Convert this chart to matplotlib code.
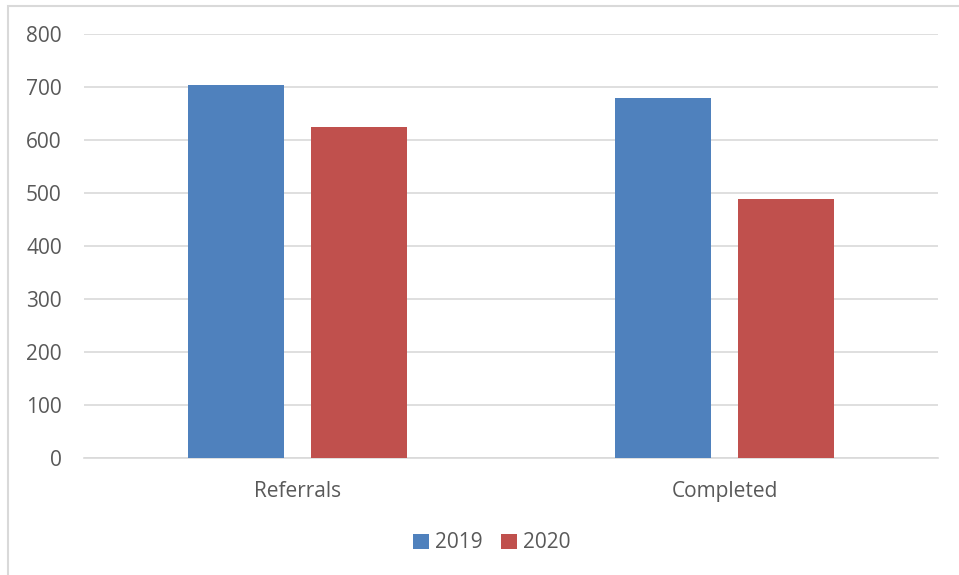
import matplotlib
matplotlib.use("Agg")
import matplotlib.pyplot as plt
from matplotlib.patches import Rectangle
import numpy as np

categories = ["Referrals", "Completed"]
years = ["2019", "2020"]
values_2019 = [703, 680]
values_2020 = [624, 488]
colors = ["#4F81BD", "#C0504D"]

plt.rcParams["font.family"] = ["Open Sans", "DejaVu Sans"]
W, H = 959, 575
fig = plt.figure(figsize=(W / 100, H / 100), dpi=100)

# chart frame: only its top and left edges fall inside the image
fig.patches.append(Rectangle((7.5 / W, -10 / H), 1.0, (H - 5.5 + 10) / H, transform=fig.transFigure,
                             fill=False, edgecolor="#D9D9D9", lw=1.5))

ax = fig.add_axes([84 / W, (H - 458) / H, (938 - 84) / W, (458 - 34) / H])
x = np.arange(len(categories))
w = 0.225
off = 0.143
ax.bar(x - off, values_2019, w, color=colors[0], label=years[0], zorder=3)
ax.bar(x + off, values_2020, w, color=colors[1], label=years[1], zorder=3)

ax.set_xlim(-0.5, 1.5)
ax.set_ylim(0, 800)
ax.set_yticks(range(0, 801, 100))
ax.set_xticks(x)
ax.set_xticklabels(categories)
ax.grid(axis="y", color="#D9D9D9", lw=1.2, zorder=0)
for s in ["top", "right", "left"]:
    ax.spines[s].set_visible(False)
ax.spines["bottom"].set_color("#D9D9D9")
ax.spines["bottom"].set_linewidth(1.2)
ax.tick_params(axis="both", length=0, labelsize=15, colors="#595959")
ax.tick_params(axis="y", pad=16)
ax.tick_params(axis="x", pad=16.5)

# legend sits centred under the whole chart frame
ax.legend(loc="center", bbox_to_anchor=((492 - 84) / (938 - 84), (543 - 458) / -(458 - 34)),
          ncol=2, frameon=False, fontsize=15, labelcolor="#595959",
          handlelength=0.75, handleheight=0.75, handletextpad=0.3, columnspacing=0.9)

fig.savefig("out.png", dpi=100)
